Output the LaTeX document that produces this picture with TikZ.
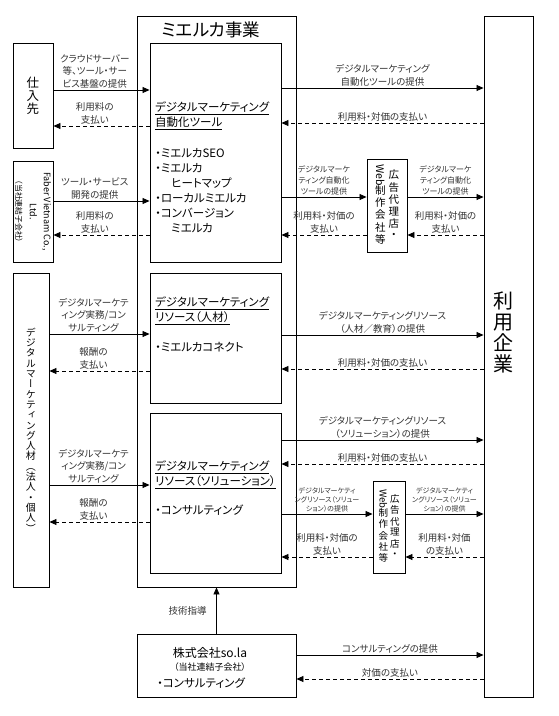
\documentclass[tikz,border=0pt]{standalone}
\usepackage{fontspec}
\usepackage{graphicx}
\setmainfont{Noto Sans CJK JP}[RawFeature=+palt]
\newfontfamily\tatefont[RawFeature=+vert]{Noto Sans CJK JP}
\usetikzlibrary{arrows.meta,positioning}
\newcommand\tatecol[1]{\begin{tabular}[t]{@{}c@{}}#1\end{tabular}}
\AtBeginDocument{\lineskiplimit=-10pt}

\begin{document}
\begin{tikzpicture}[
  x=1pt, y=-1pt,
  >={Triangle[length=7pt,width=6pt]},
  bx/.style={draw, line width=0.9pt, inner sep=0pt},
  prov/.style={->, line width=0.8pt},
  pay/.style={->, line width=0.8pt, dash pattern=on 4pt off 3pt},
  lbl/.style={align=center, text=black!80, inner sep=1.5pt,
    font=\fontsize{9.5}{12.5}\selectfont},
  slbl/.style={lbl, font=\fontsize{8}{11}\selectfont},
  tlbl/.style={lbl, font=\fontsize{7}{9}\selectfont},
  head/.style={align=left, anchor=west, inner sep=0pt,
    font=\fontsize{11.5}{15}\selectfont},
  item/.style={align=left, anchor=west, inner sep=0pt,
    font=\fontsize{11.5}{15}\selectfont},
  tate/.style={align=center, inner sep=0pt}
]
\fill[white] (0,0) rectangle (558,716);
\useasboundingbox (0,0) rectangle (558,716);

% Main business frame
\node[bx, minimum width=159pt, minimum height=571pt] (mie) at (216.5,301.5) {};
\node[font=\fontsize{17.5}{17.5}\selectfont] (mietitle) at (211,30) {ミエルカ事業};

% Inner boxes
\node[bx, minimum width=131pt, minimum height=219pt] (tool) at (215.5,152.5) {};
\node[bx, minimum width=131pt, minimum height=130pt] (talent) at (215.5,338) {};
\node[bx, minimum width=131pt, minimum height=160pt] (sol) at (215.5,493) {};

\node[head] (toolhead) at (155,116) {\underline{デジタルマーケティング}\\\underline{自動化ツール}};
\node[item, anchor=north west] (toolitems) at (155,148) {・ミエルカSEO\\・ミエルカ\\\hspace*{1.4em}ヒートマップ\\・ローカルミエルカ\\・コンバージョン\\\hspace*{1.4em}ミエルカ};
\node[head] (talenthead) at (155,311) {\underline{デジタルマーケティング}\\\underline{リソース（人材）}};
\node[item] (talentitem) at (155,347) {・ミエルカコネクト};
\node[head] (solhead) at (155,475) {\underline{デジタルマーケティング}\\\underline{リソース（ソリューション）}};
\node[item] (solitem) at (155,510) {・コンサルティング};

% Left side partners
\node[bx, tate, minimum width=40pt, minimum height=105pt,
  font=\fontsize{12.5}{13}\selectfont] (sup) at (33,95.5) {仕\\入\\先};
\node[bx, minimum width=40pt, minimum height=101pt] (fab) at (33,211.5) {};
\node[rotate=-90, align=center, font=\fontsize{9}{14}\selectfont] (fabtxt) at (fab)
  {Faber Vietnam Co.,\\Ltd.\\{\fontsize{7.8}{10}\selectfont（当社連結子会社）}};
\node[bx, tate, minimum width=36pt, minimum height=314pt,
  font=\tatefont\fontsize{10}{10.3}\selectfont] (hr) at (31,430)
  {デ\\ジ\\タ\\ル\\マ\\ー\\ケ\\テ\\ィ\\ン\\グ\\人\\材\\（\\法\\人\\・\\個\\人\\）};

% Right side user
\node[bx, minimum width=49pt, minimum height=681pt] (user) at (508.5,356.5) {};
\node[tate, font=\tatefont\fontsize{20}{21}\selectfont] (usertxt) at (503,332) {利\\用\\企\\業};

% Agencies
\node[bx, minimum width=40pt, minimum height=93pt, font=\fontsize{10.5}{11.5}\selectfont] (ag1) at (387,205.5)
  {\tatecol{\rotatebox[origin=c]{-90}{Web}\\制\\作\\会\\社\\等}\hspace{3pt}\tatecol{広\\告\\代\\理\\店\\・}};
\node[bx, minimum width=32pt, minimum height=92pt, font=\fontsize{9.5}{10.8}\selectfont] (ag2) at (389,527)
  {\tatecol{\rotatebox[origin=c]{-90}{Web}\\制\\作\\会\\社\\等}\hspace{2pt}\tatecol{広\\告\\代\\理\\店\\・}};

% so.la box
\node[bx, minimum width=159pt, minimum height=63pt] (sola) at (216.5,665.5) {};
\node[font=\fontsize{12}{12}\selectfont] (solaname) at (210,653) {株式会社so.la};
\node[font=\fontsize{9}{9}\selectfont] (solasub) at (210,667) {（当社連結子会社）};
\node[item] (solaitem) at (157,683) {・コンサルティング};

% Supplier flows
\draw[prov] (sup.east |- 0,90) -- (tool.west |- 0,90)
  node[lbl, above, pos=0.43] (lsup1) {クラウドサーバー\\等、ツール・サー\\ビス基盤の提供};
\draw[pay] (tool.west |- 0,126) -- (sup.east |- 0,126)
  node[lbl, above, pos=0.57] (lsup2) {利用料の\\支払い};
\draw[prov] (fab.east |- 0,201) -- (tool.west |- 0,201)
  node[lbl, above, pos=0.43] (lfab1) {ツール・サービス\\開発の提供};
\draw[pay] (tool.west |- 0,235) -- (fab.east |- 0,235)
  node[lbl, above, pos=0.57] (lfab2) {利用料の\\支払い};

% Talent flows
\draw[prov] (hr.east |- 0,334) -- (talent.west |- 0,334)
  node[lbl, above, pos=0.44] (lhr1) {デジタルマーケテ\\ィング実務/コン\\サルティング};
\draw[pay] (talent.west |- 0,371) -- (hr.east |- 0,371)
  node[lbl, above, pos=0.56] (lhr2) {報酬の\\支払い};
\draw[prov] (hr.east |- 0,485) -- (sol.west |- 0,485)
  node[lbl, above, pos=0.44] (lhr3) {デジタルマーケテ\\ィング実務/コン\\サルティング};
\draw[pay] (sol.west |- 0,522) -- (hr.east |- 0,522)
  node[lbl, above, pos=0.56] (lhr4) {報酬の\\支払い};

% User flows: tools
\draw[prov] (tool.east |- 0,88) -- (user.west |- 0,88)
  node[lbl, above, midway] (lus1) {デジタルマーケティング\\自動化ツールの提供};
\draw[pay] (user.west |- 0,123) -- (tool.east |- 0,123)
  node[lbl, above, midway] (lus2) {利用料・対価の支払い};
\draw[prov] (tool.east |- 0,197) -- (ag1.west |- 0,197)
  node[slbl, above, midway] (lag1) {デジタルマーケ\\ティング自動化\\ツールの提供};
\draw[prov] (ag1.east |- 0,197) -- (user.west |- 0,197)
  node[slbl, above, midway] (lag2) {デジタルマーケ\\ティング自動化\\ツールの提供};
\draw[pay] (ag1.west |- 0,235) -- (tool.east |- 0,235)
  node[lbl, above, midway] (lag3) {利用料・対価の\\支払い};
\draw[pay] (user.west |- 0,235) -- (ag1.east |- 0,235)
  node[lbl, above, midway] (lag4) {利用料・対価の\\支払い};

% User flows: resources
\draw[prov] (talent.east |- 0,335) -- (user.west |- 0,335)
  node[lbl, above, midway] (lus3) {デジタルマーケティングリソース\\（人材／教育）の提供};
\draw[pay] (user.west |- 0,369) -- (talent.east |- 0,369)
  node[lbl, above, midway] (lus4) {利用料・対価の支払い};
\draw[prov] (sol.east |- 0,440) -- (user.west |- 0,440)
  node[lbl, above, midway] (lus5) {デジタルマーケティングリソース\\（ソリューション）の提供};
\draw[pay] (user.west |- 0,464) -- (sol.east |- 0,464)
  node[lbl, above, midway] (lus6) {利用料・対価の支払い};
\draw[prov] (sol.east |- 0,514) -- (ag2.west |- 0,514)
  node[tlbl, above, midway] (lag5) {デジタルマーケティ\\ングリソース（ソリュー\\ション）の提供};
\draw[prov] (ag2.east |- 0,514) -- (user.west |- 0,514)
  node[tlbl, above, midway] (lag6) {デジタルマーケティ\\ングリソース（ソリュー\\ション）の提供};
\draw[pay] (ag2.west |- 0,557) -- (sol.east |- 0,557)
  node[lbl, above, midway] (lag7) {利用料・対価の\\支払い};
\draw[pay] (user.west |- 0,557) -- (ag2.east |- 0,557)
  node[lbl, above, midway] (lag8) {利用料・対価\\の支払い};

% so.la flows
\draw[prov] (sola.north) -- (mie.south)
  node[lbl, left=8pt, midway] (lsola1) {技術指導};
\draw[prov] (sola.east |- 0,655) -- (user.west |- 0,655)
  node[lbl, above, midway] (lsola2) {コンサルティングの提供};
\draw[pay] (user.west |- 0,679) -- (sola.east |- 0,679)
  node[lbl, above, midway] (lsola3) {対価の支払い};

\end{tikzpicture}
\end{document}
